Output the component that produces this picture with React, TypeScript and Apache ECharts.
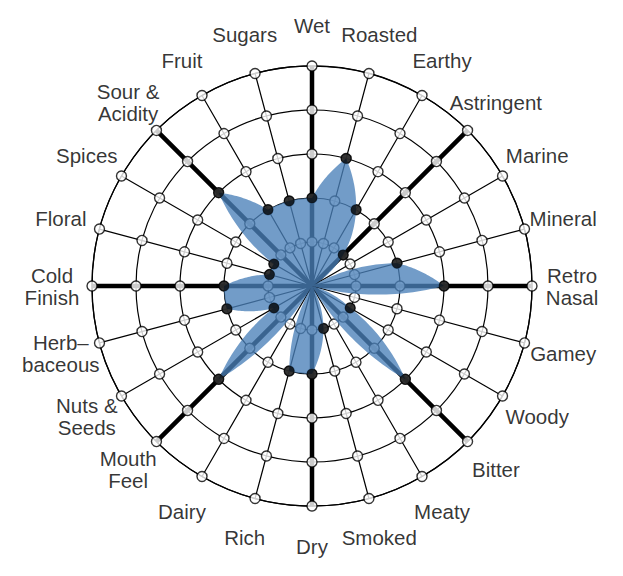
import React, { useEffect, useRef } from 'react';
import * as echarts from 'echarts';

// Flavour attributes, clockwise from the top
const categories = [
  'Wet', 'Roasted', 'Earthy', 'Astringent', 'Marine', 'Mineral',
  'Retro\nNasal', 'Gamey', 'Woody', 'Bitter', 'Meaty', 'Smoked',
  'Dry', 'Rich', 'Dairy', 'Mouth\nFeel', 'Nuts &\nSeeds', 'Herb–\nbaceous',
  'Cold\nFinish', 'Floral', 'Spices', 'Sour &\nAcidity', 'Fruit', 'Sugars',
];

// Intensity scores (0–5)
const values = [
  2, 3, 2, 1, 0, 2,
  3, 0, 1, 3, 0, 1,
  2, 2, 0, 3, 1, 2,
  2, 1, 1, 3, 2, 2,
];

// Ring levels of the web
const levels = [1, 2, 3, 4, 5];

const LABEL_R = 5.91;
const FONT = "'Liberation Sans', Arial, Helvetica, sans-serif";

export default function App() {
  const ref = useRef<HTMLDivElement>(null);

  useEffect(() => {
    if (!ref.current) return;
    const chart = echarts.init(ref.current, null, { renderer: 'svg' });
    const n = categories.length;

    const nodeData: number[][] = [];
    categories.forEach((_, i) => levels.forEach((l) => nodeData.push([l, i])));
    const dotData = values.map((v, i) => [v, i]).filter((d) => d[0] > 0);
    const labelData = categories.map((_, i) => [LABEL_R, i]);

    const hidden = { show: false };

    const option: any = {
      animation: false,
      textStyle: { fontFamily: FONT },
      polar: [
        { center: [312, 286], radius: 220 },
        { center: [312, 286], radius: 220 },
      ],
      angleAxis: [
        {
          polarIndex: 0, type: 'value', min: 0, max: n, interval: 1,
          startAngle: 90, clockwise: true,
          axisLine: { show: true, lineStyle: { color: '#000', width: 1.3 } },
          axisTick: hidden, axisLabel: hidden,
          splitLine: { show: true, lineStyle: { color: '#000', width: 1.2 } },
        },
        {
          polarIndex: 1, type: 'value', min: 0, max: n, interval: 3,
          startAngle: 90, clockwise: true,
          axisLine: hidden, axisTick: hidden, axisLabel: hidden,
          splitLine: { show: true, lineStyle: { color: '#000', width: 4.5 } },
        },
      ],
      radiusAxis: [
        {
          polarIndex: 0, type: 'value', min: 0, max: 5, interval: 1,
          axisLine: hidden, axisTick: hidden, axisLabel: hidden,
          splitLine: { show: true, lineStyle: { color: '#000', width: 1.2 } },
        },
        {
          polarIndex: 1, type: 'value', min: 0, max: 5, interval: 1,
          axisLine: hidden, axisTick: hidden, axisLabel: hidden, splitLine: hidden,
        },
      ],
      series: [
        {
          type: 'scatter', coordinateSystem: 'polar', polarIndex: 0, z: 2,
          silent: true, clip: false,
          symbol: 'circle', symbolSize: 10,
          itemStyle: { color: '#fff', borderColor: '#000', borderWidth: 1.4 },
          data: nodeData,
        },
        {
          type: 'custom', coordinateSystem: 'polar', polarIndex: 0, z: 3,
          silent: true,
          data: [[0, 0]],
          renderItem: (params: any, api: any) => {
            // radius interpolated linearly against angle between attributes
            const m = values.length;
            const steps = 30;
            const pts: number[][] = [];
            for (let i = 0; i < m; i++) {
              const p0 = values[i];
              const p1 = values[(i + 1) % m];
              for (let s = 0; s < steps; s++) {
                const t = s / steps;
                pts.push(api.coord([p0 + (p1 - p0) * t, i + t]));
              }
            }
            return {
              type: 'polygon',
              shape: { points: pts },
              style: { fill: 'rgba(74,128,184,0.78)', stroke: null },
            };
          },
        },
        {
          type: 'scatter', coordinateSystem: 'polar', polarIndex: 0, z: 4,
          silent: true, clip: false,
          symbol: 'circle', symbolSize: 10.5,
          itemStyle: { color: '#000' },
          data: dotData,
        },
        {
          type: 'scatter', coordinateSystem: 'polar', polarIndex: 0, z: 5,
          silent: true, clip: false,
          symbol: 'circle', symbolSize: 1,
          itemStyle: { color: 'rgba(0,0,0,0)' },
          label: {
            show: true, position: 'inside',
            formatter: (p: any) => categories[p.dataIndex],
            color: '#000', fontSize: 20.5, lineHeight: 22, align: 'center',
            verticalAlign: 'middle', fontFamily: FONT,
          },
          data: labelData,
        },
      ],
    };

    chart.setOption(option);
    return () => chart.dispose();
  }, []);

  return (
    <div
      ref={ref}
      style={{ position: 'fixed', left: 0, top: 0, width: 623, height: 576, background: '#fff' }}
    />
  );
}
